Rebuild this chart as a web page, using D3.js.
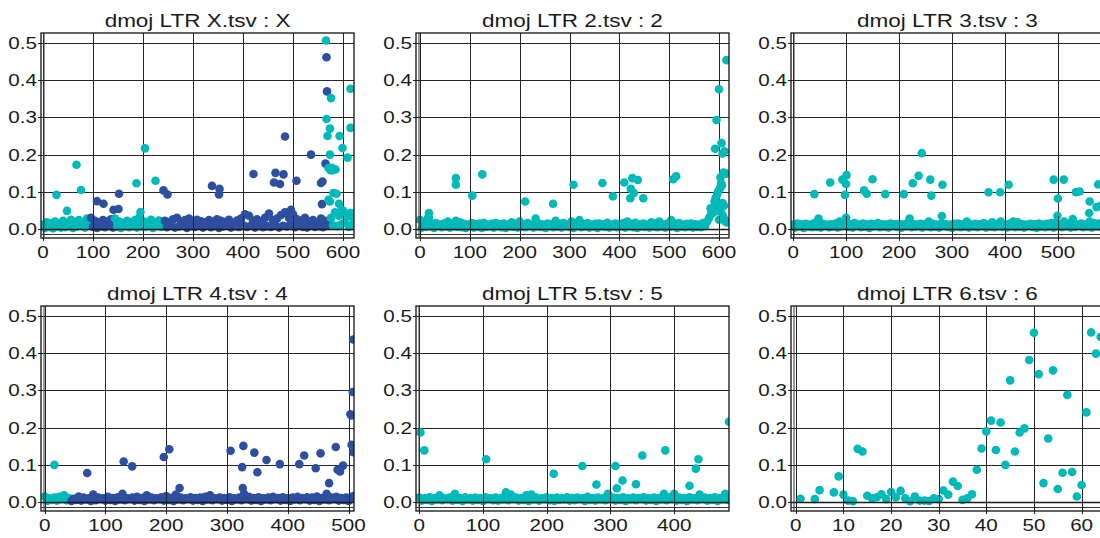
<!DOCTYPE html>
<html>
<head>
<meta charset="utf-8">
<script src="https://cdn.jsdelivr.net/npm/d3@7"></script>
<style>
  body { margin: 0; background: #fff; }
  text { font-family: "Liberation Sans", Arial, sans-serif; fill: #1a1a1a; }
</style>
</head>
<body>
<svg id="chart" width="1100" height="538"></svg>
<script>
// ---- data -------------------------------------------------------------
const titles = ["dmoj LTR X.tsv : X", "dmoj LTR 2.tsv : 2", "dmoj LTR 3.tsv : 3",
                "dmoj LTR 4.tsv : 4", "dmoj LTR 5.tsv : 5", "dmoj LTR 6.tsv : 6"];

const groupColors = ["#00b9b9", "#2e4f9f"];

const yTicks = [0, 0.1, 0.2, 0.3, 0.4, 0.5];
const xTicks1 = [0, 100, 200, 300, 400, 500, 600];
const xTicks2 = [0, 100, 200, 300, 400, 500, 600];
const xTicks3 = [0, 100, 200, 300, 400, 500];
const xTicks4 = [0, 100, 200, 300, 400, 500];
const xTicks5 = [0, 100, 200, 300, 400];
const xTicks6 = [0, 10, 20, 30, 40, 50, 60];

// low-level background scores (thousandths), one every 4 positions from 0
const band1 = [
  12,3,18,6,15,2,20,8,14,4,22,5,17,9,25,3,19,7,24,10,16,4,28,12,
  30,6,22,3,18,8,24,5,20,10,26,4,
  28,7,20,3,16,9,22,5,18,11,24,4,30,8,21,6,19,12,25,3,17,9,23,6,20,
  22,5,18,9,26,4,30,7,20,12,24,3,28,8,19,6,25,10,21,4,
  18,9,24,5,20,11,26,3,22,7,19,12,25,4,17,8,23,6,28,10,
  40,6,36,9,22,4,26,12,20,5,30,8,42,6,24,11,28,4,38,9,
  45,7,30,12,40,5,26,9,22,6,30,4,20,10,24,6,18,8,28,5,22,9,16,
  30,10,45,8,36,12,50,18,40,6,34,14,44,10,38
];
const band2 = [
  25,4,12,6,30,8,14,3,16,9,12,5,15,7,20,4,13,8,22,6,
  18,5,14,3,12,9,16,4,13,7,15,3,17,6,12,8,14,4,16,9,
  13,5,15,3,12,8,18,6,14,4,20,7,13,5,16,9,12,4,28,8,
  14,6,12,3,15,9,13,5,22,7,14,4,16,8,12,6,20,3,15,9,
  24,5,13,8,16,4,12,7,14,3,15,9,13,6,17,4,12,8,15,5,
  13,7,16,4,20,9,14,5,17,3,13,8,15,6,12,4,18,7,14,5,
  20,8,13,4,15,6,24,9,14,3,16,7,12,5,14,8,15,4,13,6,
  12,5,16,8,20,30,40,55,48,70,60,45,35,25,18
];
const band3 = [
  12,4,15,7,13,3,14,8,12,5,16,6,28,4,14,9,12,5,13,7,
  15,4,20,8,14,30,6,13,4,16,9,12,5,15,7,13,3,14,8,12,
  16,5,13,7,12,4,15,9,13,6,14,3,12,8,16,28,5,13,7,12,
  14,4,13,8,20,5,14,7,12,4,15,9,13,6,12,3,14,8,15,5,
  13,7,20,4,12,8,14,5,13,9,16,4,12,7,18,5,13,8,20,6,
  12,4,14,8,20,5,18,7,13,4,12,9,14,6,13,3,15,8,12,5,
  14,7,16,4,18,9,13,5,20,8,14,4,27,6,12,9,15,5,13,7,
  20,4,16,8,14,6,18
];
const band4 = [
  15,3,10,6,12,4,14,8,18,5,11,3,9,6,15,4,12,7,10,3,
  20,5,12,8,10,4,14,6,11,3,13,7,22,5,10,8,12,4,14,6,
  11,3,18,7,12,5,10,8,13,4,16,6,11,3,20,7,12,5,10,8,
  13,4,11,6,12,3,14,7,18,5,10,8,12,4,11,6,13,3,10,7,
  12,5,22,8,14,4,11,6,13,3,10,7,12,5,14,8,11,4,13,6,
  10,3,12,7,14,5,11,8,13,4,12,6,15,3,11,7,22,5,12,8,
  14,4,11,6,12,3,10,16
];
const band5 = [
  12,4,10,6,13,3,11,7,18,5,10,8,12,4,22,6,11,3,13,7,
  10,4,12,6,11,3,13,8,10,5,12,4,11,7,26,5,20,8,12,4,
  11,6,18,3,20,7,12,4,10,8,13,5,11,3,12,6,10,7,13,4,
  11,5,12,8,10,3,14,6,11,4,12,7,10,5,22,8,12,4,11,6,
  13,3,10,7,12,5,11,8,13,4,10,6,12,3,11,7,22,5,13,8,
  22,4,12,6,11,3,13,7,10,5,20,8,12,4,11,6,13,3,10,7,
  22,6
];

// colour group of the background scores: [start position, group]
const groups1 = [[0, 0], [94, 1], [142, 0], [242, 1], [574, 0]];
const groups2 = [[0, 0]];
const groups3 = [[0, 0]];
const groups4 = [[0, 0], [42, 1]];
const groups5 = [[0, 0]];

// isolated higher scores: [position, score (thousandths), group]
const peaks1 = [
  [27,92,0],[48,49,0],[67,173,0],[76,105,0],[187,123,0],[195,46,0],[204,217,0],[225,130,0],
  [108,75,1],[121,68,1],[141,52,1],[151,54,1],[152,95,1],[241,104,1],[249,93,1],
  [338,116,1],[353,108,1],[352,93,1],[421,148,1],[465,151,1],[462,125,1],[474,121,1],
  [481,147,1],[484,249,1],[496,52,1],[507,130,1],[536,200,1],[556,124,1],[559,128,1],
  [558,67,1],[567,462,1],[568,370,1],[565,176,1],
  [566,507,0],[567,296,0],[569,250,0],[574,200,0],[576,352,0],[574,270,0],[571,164,0],
  [575,158,0],[579,158,0],[578,165,0],[585,160,0],[581,97,0],[587,95,0],[571,79,0],
  [574,74,0],[593,250,0],[599,218,0],[609,192,0],[615,377,0],[615,272,0],[592,68,0],
  [597,50,0],[614,43,0]
];
const peaks2 = [
  [18,43,0],[18,30,0],[72,137,0],[72,119,0],[105,90,0],[125,147,0],[211,74,0],[267,68,0],
  [308,119,0],[366,124,0],[387,88,0],[410,125,0],[426,137,0],[437,132,0],[423,108,0],
  [429,97,0],[422,83,0],[448,83,0],[508,134,0],[514,142,0],[595,293,0],[600,376,0],
  [615,454,0],[592,216,0],[605,231,0],[607,203,0],[611,209,0],[609,152,0],[614,149,0],
  [603,139,0],[604,124,0],[598,101,0],[593,83,0],[591,74,0],[583,56,0],[588,43,0],
  [600,52,0],[607,70,0],[610,63,0],[613,20,0],[600,25,0],[596,92,0],[602,110,0],
  [606,118,0],[596,62,0]
];
const peaks3 = [
  [40,94,0],[70,125,0],[93,133,0],[101,145,0],[100,121,0],[98,92,0],[134,104,0],[139,95,0],
  [150,134,0],[174,94,0],[209,94,0],[226,123,0],[237,143,0],[243,204,0],[259,133,0],
  [261,90,0],[282,119,0],[281,35,0],[369,99,0],[391,99,0],[407,119,0],[492,133,0],
  [500,82,0],[499,36,0],[511,133,0],[534,99,0],[541,101,0],[560,74,0],[559,43,0],
  [573,59,0],[576,120,0],[580,62,0]
];
const peaks4 = [
  [16,100,0],
  [70,78,1],[130,109,1],[144,96,1],[196,121,1],[205,142,1],[222,38,1],[306,138,1],
  [327,151,1],[325,94,1],[326,38,1],[345,133,1],[350,80,1],[365,113,1],[387,102,1],
  [419,102,1],[427,125,1],[446,91,1],[454,131,1],[468,51,1],[479,148,1],[482,87,1],
  [486,82,1],[491,98,1],[503,236,1],[505,154,1],[507,296,1],[508,437,1],[508,134,1],
  [505,233,1]
];
const peaks5 = [
  [2,187,0],[8,139,0],[105,115,0],[211,76,0],[256,97,0],[278,47,0],[308,97,0],[310,37,0],
  [319,58,0],[340,48,0],[350,125,0],[386,139,0],[424,44,0],[434,90,0],[438,115,0],
  [486,216,0]
];

// panel 6: every position is listed
const pos6 = [1,4,5,8,9,10,11,12,13,14,15,16,17,18,19,20,21,22,23,24,25,26,27,28,29,30,
              31,32,33,34,35,36,37,38,39,40,41,42,43,44,45,46,47,48,49,50,51,52,53,54,55,
              56,57,58,59,60,61,62,63,64];
const score6 = [0.009,0.008,0.032,0.026,0.069,0.020,0.004,0.002,0.143,0.136,0.017,0.010,
                0.013,0.021,0.008,0.027,0.013,0.030,0.010,0.002,0.015,0.004,0.004,0.003,
                0.010,0.008,0.031,0.020,0.055,0.043,0.006,0.010,0.021,0.087,0.144,0.190,
                0.219,0.140,0.214,0.100,0.327,0.136,0.187,0.198,0.382,0.455,0.344,0.051,
                0.171,0.354,0.035,0.079,0.288,0.081,0.015,0.046,0.241,0.456,0.399,0.444];

// ---- layout ------------------------------------------------------------
const colLeft = [41, 416, 791];
const rowTop = [33, 306];
const plotW = 313, plotH = 205;
const BAND_STEP = 4;
const DOT_R = 4.3;

function groupAt(groups, x) {
  let g = groups[0][1];
  for (const [start, gi] of groups) if (x >= start) g = gi;
  return g;
}

function buildPoints(band, groups, peaks) {
  const pts = band.map((v, i) => ({ x: i * BAND_STEP, y: v / 1000, g: groupAt(groups, i * BAND_STEP) }));
  peaks.forEach(([x, v, g]) => pts.push({ x, y: v / 1000, g }));
  return pts.sort((a, b) => a.x - b.x);
}

const panels = [
  { title: titles[0], col: 0, row: 0, xDomain: [-4, 622],  xTicks: xTicks1, points: buildPoints(band1, groups1, peaks1) },
  { title: titles[1], col: 1, row: 0, xDomain: [-8, 620],  xTicks: xTicks2, points: buildPoints(band2, groups2, peaks2) },
  { title: titles[2], col: 2, row: 0, xDomain: [-4, 587],  xTicks: xTicks3, points: buildPoints(band3, groups3, peaks3) },
  { title: titles[3], col: 0, row: 1, xDomain: [-6, 509],  xTicks: xTicks4, points: buildPoints(band4, groups4, peaks4) },
  { title: titles[4], col: 1, row: 1, xDomain: [-5, 486],  xTicks: xTicks5, points: buildPoints(band5, groups5, peaks5) },
  { title: titles[5], col: 2, row: 1, xDomain: [-1, 64.7], xTicks: xTicks6,
    points: pos6.map((x, i) => ({ x, y: score6[i], g: 0 })) }
];

const svg = d3.select("#chart");
const fmtY = d3.format(".1f");
const TEXT_STRETCH = 1.25;

panels.forEach((p, idx) => {
  const left = colLeft[p.col], top = rowTop[p.row];
  const right = left + plotW, bottom = top + plotH;
  const x = d3.scaleLinear().domain(p.xDomain).range([left, right]);
  const y = d3.scaleLinear().domain([-0.024, 0.527]).range([bottom, top]);

  const g = svg.append("g");
  const clipId = "clip" + idx;
  svg.append("clipPath").attr("id", clipId)
    .append("rect").attr("x", left).attr("y", top).attr("width", plotW).attr("height", plotH);

  // grid
  const grid = g.append("g").attr("stroke", "#262626").attr("stroke-width", 1);
  grid.selectAll("line.h").data(yTicks).join("line")
    .attr("x1", left - 3).attr("x2", right)
    .attr("y1", d => Math.round(y(d)) + 0.5).attr("y2", d => Math.round(y(d)) + 0.5);
  grid.selectAll("line.v").data(p.xTicks).join("line")
    .attr("y1", top).attr("y2", bottom + 3)
    .attr("x1", d => Math.round(x(d)) + 0.5).attr("x2", d => Math.round(x(d)) + 0.5);

  // points
  g.append("g").attr("clip-path", `url(#${clipId})`)
    .selectAll("circle").data(p.points).join("circle")
    .attr("cx", d => x(d.x)).attr("cy", d => y(d.y)).attr("r", DOT_R)
    .attr("fill", d => groupColors[d.g]);

  // baseline and gridlines crossing the dense low-score band
  const over = g.append("g").attr("stroke", "#1a1a1a").attr("stroke-width", 1);
  over.append("line").attr("x1", left).attr("x2", right)
    .attr("y1", Math.round(y(0)) + 0.5).attr("y2", Math.round(y(0)) + 0.5)
    .attr("stroke-width", 1.3);
  over.selectAll("line.v").data(p.xTicks).join("line")
    .attr("stroke-opacity", 0.8)
    .attr("y1", y(0.035)).attr("y2", bottom)
    .attr("x1", d => Math.round(x(d)) + 0.5).attr("x2", d => Math.round(x(d)) + 0.5);

  // frame
  g.append("rect").attr("x", left).attr("y", top).attr("width", plotW).attr("height", plotH)
    .attr("fill", "none").attr("stroke", "#111").attr("stroke-width", 1.3);
  g.append("line").attr("x1", left + 3).attr("x2", left + 3).attr("y1", top).attr("y2", bottom)
    .attr("stroke", "#333").attr("stroke-width", 1);
  g.append("line").attr("x1", left).attr("x2", right).attr("y1", bottom - 3.5).attr("y2", bottom - 3.5)
    .attr("stroke", "#333").attr("stroke-width", 1);

  // tick labels
  g.selectAll("text.yl").data(yTicks).join("text")
    .attr("text-anchor", "end")
    .attr("font-size", 16.5)
    .attr("transform", d => `translate(${left - 4},${y(d) + 6}) scale(${TEXT_STRETCH},1)`)
    .text(d => fmtY(d));
  g.selectAll("text.xl").data(p.xTicks).join("text")
    .attr("text-anchor", "middle")
    .attr("font-size", 16.5)
    .attr("transform", d => `translate(${x(d)},${bottom + 20}) scale(${TEXT_STRETCH},1)`)
    .text(d => d);

  // title
  g.append("text")
    .attr("text-anchor", "middle")
    .attr("font-size", 18)
    .attr("transform", `translate(${left + plotW / 2},${top - 6.5}) scale(${TEXT_STRETCH},1)`)
    .text(p.title);
});
</script>
</body>
</html>
